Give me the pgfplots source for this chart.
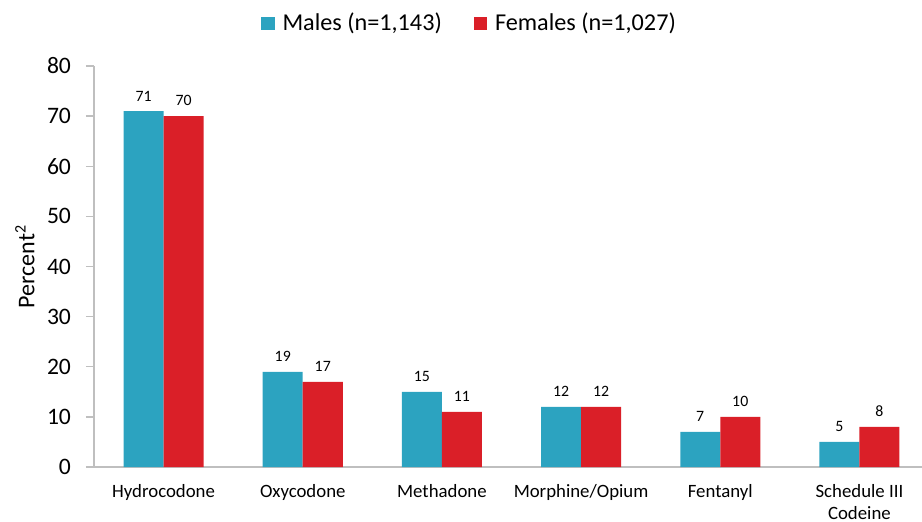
\documentclass[border=0pt]{standalone}
\usepackage{fontspec}
\setmainfont{Carlito}
\usepackage{pgfplots}
\pgfplotsset{compat=1.18}
\definecolor{maleblue}{HTML}{2CA3C0}
\definecolor{femred}{HTML}{DA1F28}
\definecolor{axisgray}{HTML}{BFBFBF}

\pgfplotstableread{
x val
0 71
1 19
2 15
3 12
4 7
5 5
}\males
\pgfplotstableread{
x val
0 70
1 17
2 11
3 12
4 10
5 8
}\females

\begin{document}
\begin{tikzpicture}
% page: 922x521 px at 0.5pt per px, axis origin at (94,467) px
\path[use as bounding box] (-47pt,-27pt) rectangle (414pt,233.5pt);
\begin{axis}[
    at={(0,0)}, anchor=south west,
    scale only axis,
    width=417.5pt, height=200.5pt,
    ybar, bar width=20pt,
    xmin=-0.5, xmax=5.5,
    ymin=0, ymax=80,
    ytick={0,10,...,80},
    xtick={0,...,5},
    xticklabels={Hydrocodone, Oxycodone, Methadone, Morphine/Opium, Fentanyl, {Schedule III\\Codeine}},
    minor xtick={-0.5,0.5,...,5.5},
    axis lines*=left,
    axis line style={axisgray, line width=0.7pt},
    every tick/.style={axisgray, line width=0.7pt},
    tick align=outside,
    major tick length=4pt,
    minor tick length=3pt,
    xtick style={draw=none},
    minor x tick style={axisgray, line width=0.7pt},
    /pgf/number format/assume math mode=true,
    yticklabel style={font=\fontsize{11.8}{13}\selectfont, xshift=-4pt},
    xticklabel style={font=\fontsize{9.4}{11}\selectfont, align=center, anchor=north, inner sep=1pt, yshift=-3.4pt},
    ylabel={Percent\textsuperscript{2}},
    ylabel style={font=\fontsize{12}{14}\selectfont, at={(rel axis cs:0,0.5)}, anchor=center, rotate=0, yshift=34.5pt},
    nodes near coords,
    every node near coord/.append style={font=\fontsize{7.9}{9}\selectfont, black, yshift=1.5pt},
    legend style={at={(rel axis cs:0.451,1.107)}, anchor=center, draw=none,
        font=\fontsize{12.1}{14}\selectfont, column sep=0pt,
        /tikz/every odd column/.append style={column sep=2pt},
        /tikz/every even column/.append style={column sep=14pt}},
    legend columns=2,
    legend image code/.code={\fill[#1] (0pt,-3.3pt) rectangle (6.6pt,3.3pt);},
    clip=false,
]
\addplot[fill=maleblue, draw=none, bar shift=-10pt] table[x=x, y=val] {\males};
\addplot[fill=femred, draw=none, bar shift=10pt] table[x=x, y=val] {\females};
\legend{{Males (n=1,143)}, {Females (n=1,027)}}
\end{axis}
\end{tikzpicture}
\end{document}
